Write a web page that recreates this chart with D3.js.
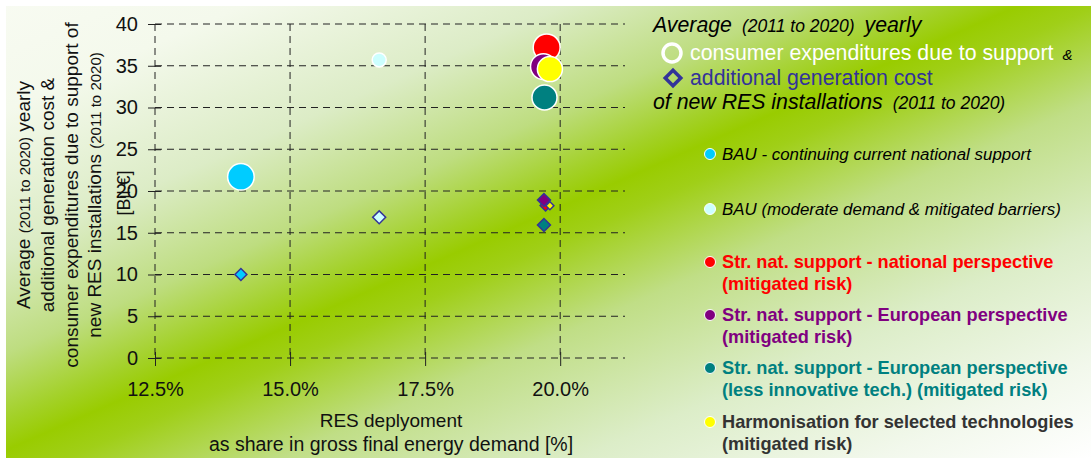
<!DOCTYPE html>
<html><head><meta charset="utf-8">
<script src="https://cdn.jsdelivr.net/npm/d3@7/dist/d3.min.js"></script>
<style>
body{margin:0;background:#fff}
svg{display:block;font-family:"Liberation Sans",Arial,Helvetica,sans-serif}
</style>
</head><body>
<svg id="chart" width="1091" height="459"></svg>
<script>
// ---------- data ----------
const scenarios = [
  "BAU - continuing current national support",
  "BAU (moderate demand & mitigated barriers)",
  "Str. nat. support - national perspective (mitigated risk)",
  "Str. nat. support - European perspective (mitigated risk)",
  "Str. nat. support - European perspective (less innovative tech.) (mitigated risk)",
  "Harmonisation for selected technologies (mitigated risk)"
];
const legendLines = [
  ["BAU - continuing current national support"],
  ["BAU (moderate demand & mitigated barriers)"],
  ["Str. nat. support - national perspective", "(mitigated risk)"],
  ["Str. nat. support - European perspective", "(mitigated risk)"],
  ["Str. nat. support - European perspective", "(less innovative tech.) (mitigated risk)"],
  ["Harmonisation for selected technologies", "(mitigated risk)"]
];
// RES share [%] and consumer expenditures due to support [Bil.€] (circles)
const resShareExp   = [14.09, 16.65, 19.75, 19.69, 19.71, 19.81];
const consumerExp   = [21.7, 35.7, 37.2, 34.9, 31.2, 34.6];
// RES share [%] and additional generation cost [Bil.€] (diamonds)
const resShareCost  = [14.09, 16.65, 19.73, 19.70, 19.70, 19.81];
const addGenCost    = [10.0, 16.85, 18.26, 18.92, 15.93, 18.24];
// relative bubble magnitudes
const bubbleSize    = [180, 50, 185, 170, 160, 160];
const diamondSize   = [72, 84, 60, 84, 84, 32];
const xTicks = [12.5, 15.0, 17.5, 20.0];
const yTicks = [0, 5, 10, 15, 20, 25, 30, 35, 40];

// ---------- styles ----------
const fills = ["#00CCFF", "#CCFFFF", "#FF0000", "#800080", "#008080", "#FFFF00"];
const legendText = [
  {c:"#000", w:"normal", s:"italic"},
  {c:"#000", w:"normal", s:"italic"},
  {c:"#FF0000", w:"bold", s:"normal"},
  {c:"#800080", w:"bold", s:"normal"},
  {c:"#008080", w:"bold", s:"normal"},
  {c:"#333333", w:"bold", s:"normal"}
];
const FONT = "Liberation Sans, Arial, sans-serif";

const svg = d3.select("#chart");
const defs = svg.append("defs");
const grad = defs.append("linearGradient").attr("id","bg")
  .attr("gradientUnits","userSpaceOnUse")
  .attr("x1",0).attr("y1",0).attr("x2",345).attr("y2",786);
[[0,"#f8fbf2"],[0.12,"#f4f9ec"],[0.27,"#dcecc6"],[0.38,"#bedd80"],[0.45,"#a3d128"],[0.483,"#99cc00"],
 [0.52,"#a0cf18"],[0.62,"#c0de86"],[0.76,"#dcedc8"],[0.9,"#f2f8ec"],[1,"#ffffff"]]
  .forEach(([o,c]) => grad.append("stop").attr("offset",o).attr("stop-color",c));

svg.append("rect").attr("x",6).attr("y",6).attr("width",1085).attr("height",452).attr("fill","url(#bg)");

const x = d3.scaleLinear().domain([12.5, 21.2]).range([155, 625]);
const y = d3.scaleLinear().domain([0, 40]).range([358, 24]);
const r = d3.scaleSqrt().domain([0, 200]).range([0, 14]);

// grid
const grid = svg.append("g").attr("stroke","#222").attr("stroke-width",1).attr("stroke-dasharray","7,5");
grid.selectAll("line.h").data(yTicks).join("line")
  .attr("x1", x(12.5)).attr("x2", 625).attr("y1", d=>y(d)).attr("y2", d=>y(d));
grid.selectAll("line.v").data(xTicks).join("line").attr("class","v")
  .attr("x1", d=>x(d)).attr("x2", d=>x(d)).attr("y1", y(40)).attr("y2", y(0));

// axes
const yAxis = svg.append("g").attr("transform",`translate(${x(12.5)},0)`)
  .call(d3.axisLeft(y).tickValues(yTicks).tickSize(7).tickPadding(10).tickFormat(d3.format("d")));
yAxis.select(".domain").remove();
yAxis.selectAll(".tick line").attr("x1",6).attr("stroke","#222");
yAxis.selectAll(".tick text").attr("font-size",20).attr("fill","#111").attr("font-family",FONT);

const xAxis = svg.append("g").attr("transform",`translate(0,${y(0)})`)
  .call(d3.axisBottom(x).tickValues(xTicks).tickSize(8).tickPadding(16).tickFormat(d=>d3.format(".1f")(d)+"%"));
xAxis.select(".domain").remove();
xAxis.selectAll(".tick line").attr("y1",-6).attr("stroke","#222");
xAxis.selectAll(".tick text").attr("font-size",20).attr("fill","#111").attr("font-family",FONT);

// y title
const yt = svg.append("g").attr("transform","translate(0,195) rotate(-90)")
  .attr("font-size",19).attr("fill","#111").attr("text-anchor","middle");
const l1 = yt.append("text").attr("y",30);
l1.append("tspan").text("Average ");
l1.append("tspan").attr("font-size",15).text("(2011 to 2020)");
l1.append("tspan").text(" yearly");
yt.append("text").attr("y",54).text("additional generation cost &");
yt.append("text").attr("y",78).text("consumer expenditures due to support of");
const l4 = yt.append("text").attr("y",101);
l4.append("tspan").text("new RES installations ");
l4.append("tspan").attr("font-size",15).text("(2011 to 2020)");
svg.append("text").attr("transform","translate(130,193) rotate(-90)").attr("text-anchor","middle")
  .attr("font-size",18).attr("fill","#111").text("[Bil.€]");

// x title
svg.append("text").attr("x",391).attr("y",427).attr("text-anchor","middle").attr("font-size",19).attr("fill","#111").text("RES deplyoment");
svg.append("text").attr("x",391).attr("y",451).attr("text-anchor","middle").attr("font-size",19.5).attr("fill","#111").text("as share in gross final energy demand [%]");

// circles
const idx = d3.range(scenarios.length);
svg.append("g").selectAll("circle").data(idx).join("circle")
  .attr("cx", i=>x(resShareExp[i])).attr("cy", i=>y(consumerExp[i])).attr("r", i=>r(bubbleSize[i]))
  .attr("fill", i=>fills[i]).attr("stroke","#fff").attr("stroke-width",1.5);

// diamonds
svg.append("g").selectAll("path").data(idx).join("path")
  .attr("d", i=>d3.symbol(d3.symbolSquare, diamondSize[i])())
  .attr("transform", i=>`translate(${x(resShareCost[i])},${y(addGenCost[i])}) rotate(45)`)
  .attr("fill", i=>fills[i]).attr("stroke","#333399").attr("stroke-width",1.5);

// legend header
const lh = svg.append("g").attr("font-size",21.3);
const h1 = lh.append("text").attr("x",653).attr("y",32).attr("font-style","italic").attr("fill","#000");
h1.append("tspan").text("Average");
h1.append("tspan").attr("font-size",17.5).attr("dx",10).text("(2011 to 2020)");
h1.append("tspan").attr("dx",10).text("yearly");
lh.append("circle").attr("cx",672).attr("cy",53).attr("r",9).attr("fill","none").attr("stroke","#fff").attr("stroke-width",3.5);
const h2 = lh.append("text").attr("x",690).attr("y",60).attr("fill","#fff");
h2.append("tspan").text("consumer expenditures due to support");
h2.append("tspan").attr("dx",9).attr("fill","#000").attr("font-style","italic").attr("font-size",15).text("&");
lh.append("path").attr("d", d3.symbol(d3.symbolSquare, 120)())
  .attr("transform","translate(673,78) rotate(45)").attr("fill","none").attr("stroke","#333399").attr("stroke-width",3.5);
lh.append("text").attr("x",690).attr("y",85).attr("fill","#333399").text("additional generation cost");
const h4 = lh.append("text").attr("x",653).attr("y",109).attr("font-style","italic").attr("fill","#000");
h4.append("tspan").text("of new RES installations");
h4.append("tspan").attr("font-size",17.5).attr("dx",10).text("(2011 to 2020)");

// legend items
const legY = [154, 209, 262, 315, 368, 422];
const leg = svg.append("g");
idx.forEach(i => {
  leg.append("circle").attr("cx",710).attr("cy",legY[i]).attr("r",5.5)
    .attr("fill",fills[i]).attr("stroke","#fff").attr("stroke-width",1);
  const st = legendText[i];
  legendLines[i].forEach((t,j) => {
    leg.append("text").attr("x",722).attr("y",legY[i] + j*21.5).attr("dy","0.35em")
      .attr("font-size", st.w==="bold" ? 18.2 : 16.9).attr("font-weight",st.w).attr("font-style",st.s)
      .attr("fill",st.c).text(t);
  });
});
</script>
</body></html>
